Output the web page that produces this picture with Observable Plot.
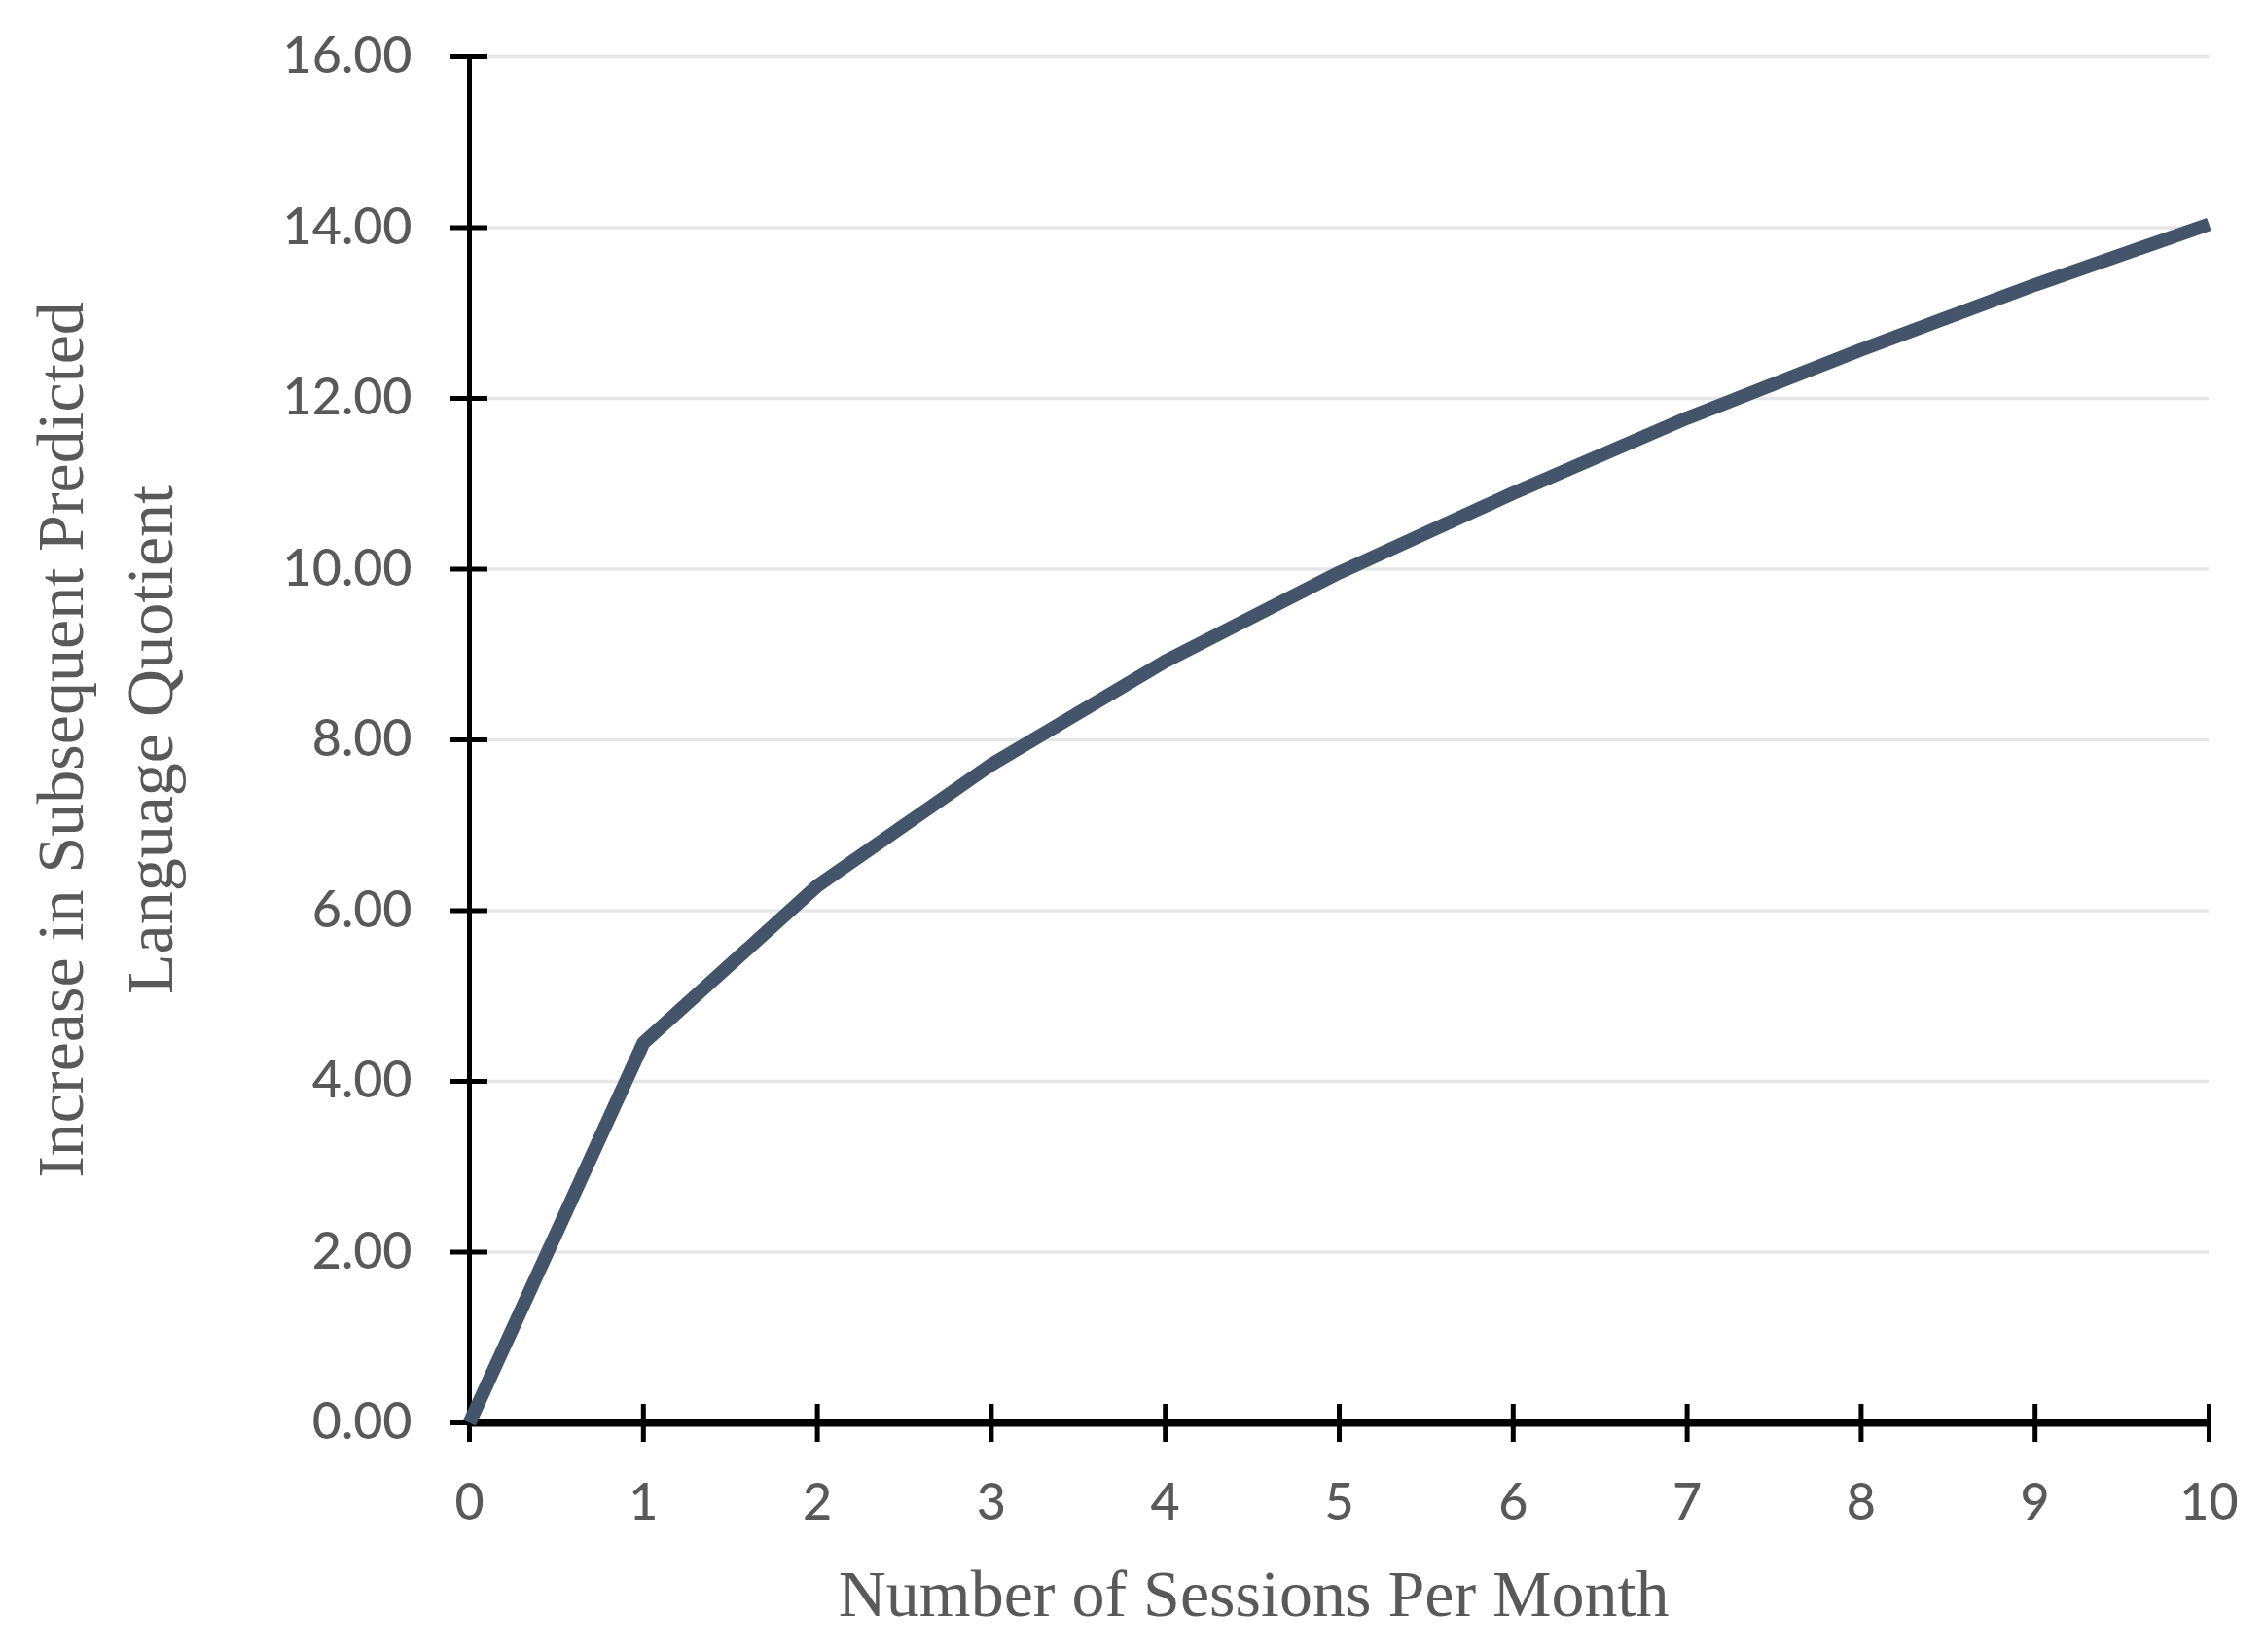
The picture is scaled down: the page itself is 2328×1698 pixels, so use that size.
<!DOCTYPE html>
<html>
<head>
<meta charset="utf-8">
<script src="https://cdn.jsdelivr.net/npm/d3@7"></script>
<script src="https://cdn.jsdelivr.net/npm/@observablehq/plot@0.6"></script>
<style>
  html, body { margin: 0; padding: 0; background: #ffffff; }
  #chart { width: 2328px; height: 1698px; }
</style>
</head>
<body>
<div id="chart"></div>
<script>
// Data
const sessions = [0, 1, 2, 3, 4, 5, 6, 7, 8, 9, 10];
const increase = [0.00, 4.45, 6.29, 7.71, 8.92, 9.96, 10.89, 11.77, 12.57, 13.33, 14.04];
const xTicks = [0, 1, 2, 3, 4, 5, 6, 7, 8, 9, 10];
const yTicks = [0, 2, 4, 6, 8, 10, 12, 14, 16];
const xTitle = "Number of Sessions Per Month";
const yTitle = "Increase in Subsequent Predicted\nLanguage Quotient";

const data = sessions.map((s, i) => ({ sessions: s, increase: increase[i] }));

const tickFont = "Lato, 'Open Sans', sans-serif";
const titleFont = "'Liberation Serif', 'DejaVu Serif', serif";
const labelColor = "#595959";

const chart = Plot.plot({
  width: 2328,
  height: 1698,
  marginLeft: 482,
  marginRight: 58,
  marginTop: 58,
  marginBottom: 236,
  style: { background: "#ffffff", fontFamily: tickFont },
  x: { domain: [0, 10], label: null },
  y: { domain: [0, 16], label: null },
  marks: [
    // horizontal gridlines
    Plot.ruleY(yTicks.filter(d => d > 0), { stroke: "#e6e6e6", strokeWidth: 3.5 }),
    // y tick marks crossing the axis
    Plot.axisY({ ticks: yTicks, tickSize: 38, dx: 19, tickFormat: () => "", stroke: "#000", strokeWidth: 5, strokeOpacity: 1 }),
    // y tick labels
    Plot.axisY({ ticks: yTicks, tickSize: 0, tickPadding: 59, tickFormat: d3.format(".2f"),
      fontSize: 52, fontWeight: 500, fill: labelColor, fontFamily: tickFont }),
    // x tick marks crossing the axis
    Plot.axisX({ ticks: xTicks, tickSize: 39, dy: -19, tickFormat: () => "", stroke: "#000", strokeWidth: 5, strokeOpacity: 1 }),
    // x tick labels
    Plot.axisX({ ticks: xTicks, tickSize: 0, tickPadding: 63, tickFormat: d3.format("d"),
      fontSize: 52, fontWeight: 500, fill: labelColor, fontFamily: tickFont }),
    // axis lines
    Plot.ruleX([0], { stroke: "#000", strokeWidth: 5 }),
    Plot.ruleY([0], { stroke: "#000", strokeWidth: 8 }),
    // data line
    Plot.line(data, { x: "sessions", y: "increase", stroke: "#44546a", strokeWidth: 14,
      strokeLinejoin: "miter", strokeLinecap: "butt" }),
    // axis titles
    Plot.text([xTitle], { frameAnchor: "bottom", lineAnchor: "bottom", dy: 198, dx: -88,
      fontSize: 68, fontFamily: titleFont, fill: labelColor }),
    Plot.text([yTitle], { frameAnchor: "left", textAnchor: "middle", lineAnchor: "bottom", rotate: -90, dx: -306,
      lineHeight: 1.35, fontSize: 68, fontFamily: titleFont, fill: labelColor })
  ]
});

document.getElementById("chart").appendChild(chart);
</script>
</body>
</html>
